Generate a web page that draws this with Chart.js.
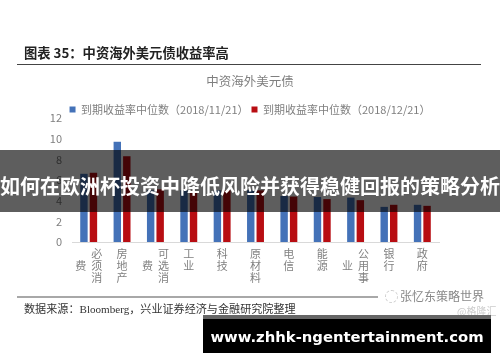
<!DOCTYPE html>
<html><head><meta charset="utf-8">
<script src="https://cdn.jsdelivr.net/npm/chart.js@4"></script>
<style>
html,body{margin:0;padding:0;background:#fff;}
#stage{position:relative;width:500px;height:362px;overflow:hidden;background:#fff;font-family:"Noto Sans CJK SC",sans-serif;}
#stage>div{position:absolute;white-space:nowrap;}
canvas{position:absolute;left:0;top:0;filter:blur(0.35px);}
</style></head><body>
<div id="stage">
<canvas id="c" width="500" height="362"></canvas>
<div style="left:24px;top:43px;font-size:13.3px;line-height:20px;font-weight:700;color:#222">图表 35：中资海外美元债收益率高</div>
<div style="left:17px;top:64px;width:464px;height:1px;background:#444"></div>
<div style="left:17px;top:296px;width:361px;height:2px;background:#a8a8a8"></div>
<div style="left:24px;top:300px;font-size:11.1px;line-height:16px;color:#333">数据来源：<span style="font-family:'Liberation Serif'">Bloomberg</span>，兴业证券经济与金融研究院整理</div>
<div style="left:385px;top:290px;width:11px;height:11px;border:1px dashed #ccc;border-radius:50%"></div>
<div style="left:400px;top:288px;font-size:12px;line-height:16px;color:#888">张忆东策略世界</div>
<div style="left:457px;top:304px;font-size:10px;line-height:14px;color:#ccc">@格隆汇</div>
<div style="left:0;top:150px;width:500px;height:62px;background:rgba(0,0,0,0.63)"></div>
<div style="left:0;top:155px;width:500px;height:62px;line-height:62px;text-align:center;font-size:20px;font-weight:700;color:#fff">如何在欧洲杯投资中降低风险并获得稳健回报的策略分析</div>
<div style="left:203px;top:315px;width:288px;height:38px;background:#000"></div>
<div style="left:203px;top:315px;width:288px;height:4px;background:#666"></div>
<div style="left:203px;top:319px;width:288px;height:34px;line-height:35px;text-align:center;font-family:'DejaVu Sans';font-size:14.8px;font-weight:700;color:#fff">www.zhhk-ngentertainment.com</div>
</div>
<script>
const categories=["必须消费","房地产","可选消费","工业","科技","原材料","电信","能源","公用事业","银行","政府"];
const seriesNov=[6.6,9.7,5.0,5.0,5.0,5.0,4.45,4.35,4.3,3.4,3.6];
const seriesDec=[6.7,8.3,5.1,4.9,5.0,5.0,4.4,4.15,4.05,3.6,3.5];
const seriesNames=["到期收益率中位数（2018/11/21）","到期收益率中位数（2018/12/21）"];
const chartTitle="中资海外美元债";
const yTicks=[0,2,4,6,8,10,12];
const font='"Noto Sans CJK SC",sans-serif';
const tightLegend={id:'tightLegend',afterInit(chart){
  const legend=chart.legend,fit=legend.fit;
  legend.fit=function(){fit.call(this);this.height-=7;};
}};
const verticalLabels={id:'verticalLabels',afterDatasetsDraw(chart){
  const {ctx,scales:{x}}=chart;ctx.save();
  ctx.font='11px '+font;ctx.fillStyle='#808080';ctx.textAlign='center';ctx.textBaseline='middle';
  const lh=12,cw=16,top=x.bottom+6;
  categories.forEach((name,i)=>{
    const cx=x.getPixelForTick(i);
    const cols=[];for(let k=0;k<name.length;k+=3)cols.push(name.slice(k,k+3));
    const first=cx+(cols.length-1)*cw/2;
    const fullH=cols[0].length*lh;
    cols.forEach((col,j)=>{
      const colX=first-j*cw;
      const y0=top+(fullH-col.length*lh)/2+lh/2;
      [...col].forEach((ch,m)=>ctx.fillText(ch,colX,y0+m*lh));
    });
  });
  ctx.restore();
}};
new Chart(document.getElementById('c'),{
  type:'bar',
  data:{labels:categories,datasets:[
    {label:seriesNames[0],data:seriesNov,backgroundColor:'#4472b8'},
    {label:seriesNames[1],data:seriesDec,backgroundColor:'#b80d12'}
  ]},
  plugins:[tightLegend,verticalLabels],
  options:{
    responsive:false,animation:false,
    layout:{padding:{top:74,right:0,bottom:120,left:0}},
    datasets:{bar:{categoryPercentage:0.57,barPercentage:0.78}},
    plugins:{
      title:{display:true,text:chartTitle,color:'#7f7f7f',font:{family:font,size:12.5,weight:'normal'},padding:{top:0,bottom:12}},
      legend:{display:true,position:'top',labels:{color:'#7f7f7f',font:{family:font,size:11},boxWidth:6,boxHeight:6,padding:3}},
      tooltip:{enabled:false}
    },
    scales:{
      x:{grid:{display:false,drawTicks:false},border:{color:'#d9d9d9'},ticks:{display:false}},
      y:{min:0,max:12,afterBuildTicks(s){s.ticks=yTicks.map(v=>({value:v}));},
         afterFit(s){s.width=72;},
         grid:{display:false,drawTicks:false},border:{display:false},
         ticks:{color:'#7f7f7f',padding:10,font:{family:font,size:11}}},
      yRight:{position:'right',min:0,max:12,afterFit(s){s.width=61;},
         grid:{display:false,drawTicks:false},border:{display:false},ticks:{display:false}}
    }
  }
});
</script>
</body></html>
